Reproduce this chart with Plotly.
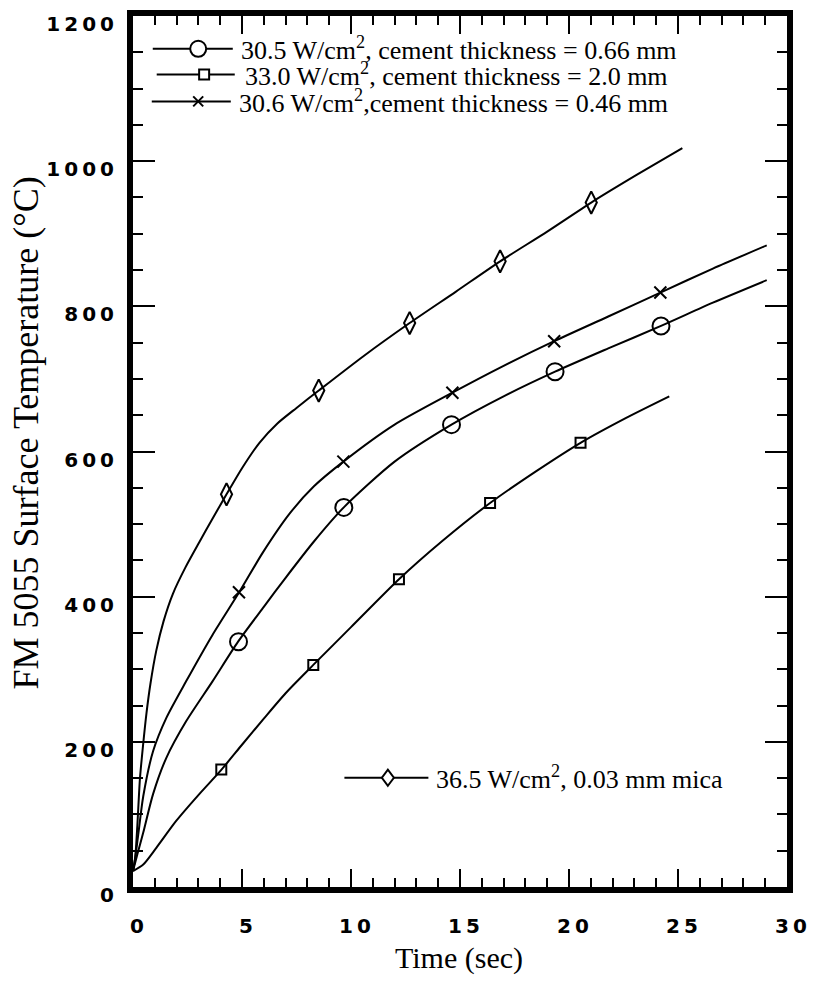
import plotly.graph_objects as go

# ---------------- data ----------------
series_labels = [
    "30.5 W/cm<sup>2</sup>, cement thickness = 0.66 mm",
    "33.0 W/cm<sup>2</sup>, cement thickness = 2.0 mm",
    "30.6 W/cm<sup>2</sup>,cement thickness = 0.46 mm",
    "36.5 W/cm<sup>2</sup>, 0.03 mm mica",
]

# curves (time in sec, temperature in C)
circle_curve_t = [0, 0.2, 0.47, 0.92, 1.53, 2.43, 3.64, 4.82, 6, 7, 8.3, 9.67, 12, 14.61, 17, 19.36, 21.8, 24.22, 26.6, 29.07]
circle_curve_T = [22, 45, 75, 128, 178, 228, 283, 338, 386, 426, 476, 523, 586, 637, 676, 710, 742, 773, 805, 836]

square_curve_t = [0, 0.47, 1.07, 1.98, 3.04, 4.04, 5, 6, 7, 8.27, 10, 12.2, 14.2, 16.38, 18.5, 20.53, 22.6, 24.6]
square_curve_T = [22, 31, 54, 91, 128, 161, 196, 232, 267, 306, 358, 424, 477, 529, 573, 612, 646, 676]

cross_curve_t = [0, 0.1, 0.24, 0.47, 0.92, 1.53, 2.43, 3.64, 4.87, 5.96, 7.2, 8.3, 9.65, 12, 14.65, 17, 19.32, 21.8, 24.19, 26.6, 29.07]
cross_curve_T = [22, 40, 72, 125, 187, 233, 283, 347, 406, 461, 515, 552, 586, 637, 681, 718, 752, 786, 819, 852, 884]

diamond_curve_t = [0, 0.1, 0.2, 0.32, 0.47, 0.62, 0.8, 1.07, 1.4, 1.83, 2.4, 3.04, 3.6, 4.29, 5, 5.8, 6.6, 7.5, 8.52, 10.6, 12.69, 14.8, 16.84, 19, 21.02, 23.1, 25.2]
diamond_curve_T = [22, 40, 85, 150, 198, 240, 280, 326, 366, 404, 440, 475, 505, 541, 577, 612, 638, 660, 684, 732, 777, 820, 862, 903, 943, 981, 1018]

# marker points
circle_t = [4.84, 9.67, 14.61, 19.36, 24.22]
circle_T = [338, 523, 637, 710, 773]
square_t = [4.05, 8.27, 12.2, 16.38, 20.53]
square_T = [162, 306, 424, 529, 612]
cross_t = [4.86, 9.65, 14.65, 19.32, 24.19]
cross_T = [406, 586, 681, 752, 819]
diamond_t = [4.29, 8.52, 12.69, 16.84, 21.02]
diamond_T = [541, 684, 777, 862, 943]

TS = "\u2009"  # thin space, the reference ticks are letter-spaced
x_tickvals = [0, 5, 10, 15, 20, 25, 30]
x_ticktext = ["0", "5", "1" + TS + "0", "1" + TS + "5", "2" + TS + "0", "2" + TS + "5", "3" + TS + "0"]
y_tickvals = [0, 200, 400, 600, 800, 1000, 1200]
y_ticktext = ["0", TS.join("200"), TS.join("400"), TS.join("600"), TS.join("800"),
              TS.join("1000"), TS.join("1200")]

# ---------------- figure ----------------
W, H = 817, 990
L, R, T, B = 133, 22, 10, 103
PW = W - L - R
PH = H - T - B

fig = go.Figure()
line_style = dict(color="black", width=2, shape="spline", smoothing=0.7)

curves = [
    (circle_curve_t, circle_curve_T, circle_t, circle_T, "circle-open", 17),
    (square_curve_t, square_curve_T, square_t, square_T, "square-open", 10),
    (cross_curve_t, cross_curve_T, cross_t, cross_T, "x-thin-open", 12),
    (diamond_curve_t, diamond_curve_T, diamond_t, diamond_T, "diamond-tall-open", 16),
]
for ct, cT, mt, mT, sym, size in curves:
    fig.add_trace(go.Scatter(x=ct, y=cT, mode="lines", line=line_style,
                             showlegend=False, hoverinfo="skip"))
    fig.add_trace(go.Scatter(x=mt, y=mT, mode="markers",
                             marker=dict(symbol=sym, size=size, color="black",
                                         line=dict(color="black", width=2)),
                             showlegend=False))

tick_font = dict(family="DejaVu Sans", size=20, color="black", weight="bold")
fig.update_xaxes(range=[0, 30], tickvals=x_tickvals, ticktext=x_ticktext,
                 ticks="inside", ticklen=18, tickwidth=2, tickcolor="black",
                 minor=dict(dtick=1, ticks="inside", ticklen=9, tickwidth=2, tickcolor="black"),
                 showline=True, linewidth=6, linecolor="black", mirror="allticks",
                 showgrid=False, zeroline=False, tickfont=tick_font,
                 ticklabelstandoff=16, ticklabelshift=4, ticklabeloverflow="allow")
fig.update_yaxes(range=[0, 1200], tickvals=y_tickvals, ticktext=y_ticktext,
                 ticks="inside", ticklen=22, tickwidth=2, tickcolor="black",
                 minor=dict(dtick=50, ticks="inside", ticklen=10, tickwidth=2, tickcolor="black"),
                 showline=True, linewidth=6, linecolor="black", mirror="allticks",
                 showgrid=False, zeroline=False, tickfont=tick_font,
                 ticklabelstandoff=9, ticklabelshift=8, ticklabeloverflow="allow")


def px(xp):
    return (xp - L) / PW


def py(yp):
    return (H - B - yp) / PH


shapes = []
annotations = []

# legend entries: (line x0, line x1, marker x, row y, text x, marker type)
legend_rows = [
    (153, 234, 199, 43, 240, "circle"),
    (157, 236, 205, 69, 244, "square"),
    (152, 232, 199, 96, 238, "x"),
    (347, 432, 391, 777, 438, "diamond"),
]
for (lx0, lx1, mx, ry, tx, mk), label in zip(legend_rows, series_labels):
    shapes.append(dict(type="line", xref="paper", yref="paper", x0=px(lx0), x1=px(lx1),
                       y0=py(ry), y1=py(ry), line=dict(color="black", width=2)))
    common = dict(xref="paper", yref="paper", xsizemode="pixel", ysizemode="pixel",
                  xanchor=px(mx), yanchor=py(ry), line=dict(color="black", width=2))
    if mk == "circle":
        shapes.append(dict(type="circle", x0=-8, x1=8, y0=-8, y1=8,
                           fillcolor="white", **common))
    elif mk == "square":
        shapes.append(dict(type="rect", x0=-5, x1=5, y0=-5, y1=5,
                           fillcolor="white", **common))
    elif mk == "x":
        shapes.append(dict(type="path", path="M-5,-5L5,5M-5,5L5,-5", **common))
    else:
        shapes.append(dict(type="path", path="M0,-8L6,0L0,8L-6,0Z",
                           fillcolor="white", **common))
    annotations.append(dict(text=label, xref="paper", yref="paper", x=px(tx), y=py(ry),
                            xanchor="left", yanchor="middle", showarrow=False,
                            font=dict(family="Liberation Serif", size=26, color="black")))

annotations.append(dict(text="FM 5055 Surface Temperature (\u00b0C)", xref="paper", yref="paper",
                        x=px(25), y=py(430), textangle=-90, showarrow=False,
                        xanchor="center", yanchor="middle",
                        font=dict(family="Liberation Serif", size=36, color="black")))
annotations.append(dict(text="Time (sec)", xref="paper", yref="paper",
                        x=px(463), y=py(958), showarrow=False,
                        xanchor="center", yanchor="middle",
                        font=dict(family="Liberation Serif", size=30, color="black")))

fig.update_layout(width=W, height=H, margin=dict(l=L, r=R, t=T, b=B),
                  plot_bgcolor="white", paper_bgcolor="white",
                  shapes=shapes, annotations=annotations, showlegend=False)

fig.write_html("out.html", config={"displayModeBar": False},
               post_script="document.body.style.margin='0';document.body.style.overflow='hidden';")
